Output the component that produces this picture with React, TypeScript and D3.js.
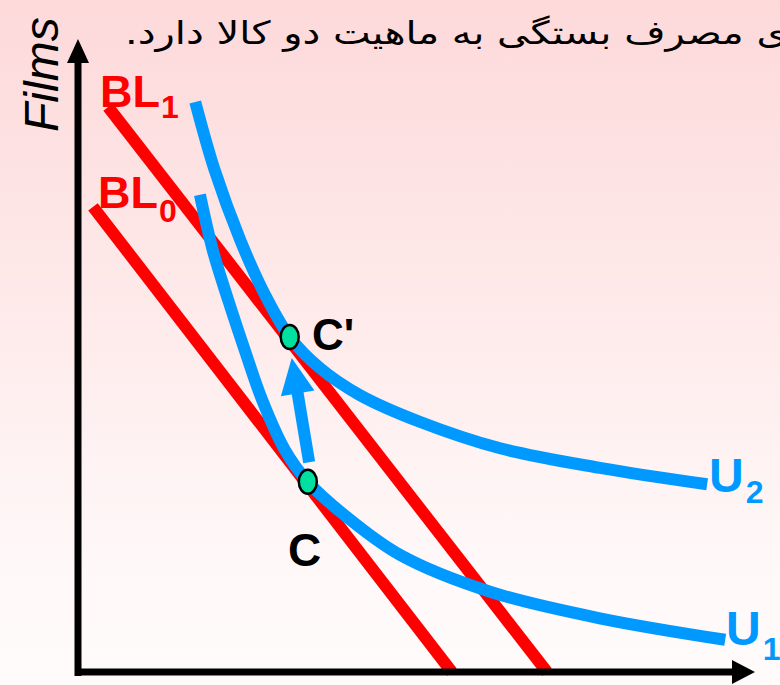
import React from 'react';
import * as d3 from 'd3';

const W = 780;
const H = 685;

// Data (abstract units: x = Other goods, y = Films)
const budgetLine1 = [{ x: 4.5, y: 89.4 }, { x: 70.0, y: 0 }];
const budgetLine0 = [{ x: 2.24, y: 73.6 }, { x: 55.8, y: 0 }];

const utility2 = [
  { x: 17.5, y: 90.2 }, { x: 20.4, y: 79.4 }, { x: 24.2, y: 68.4 }, { x: 27.9, y: 59.7 },
  { x: 31.6, y: 53.0 }, { x: 36.1, y: 48.1 }, { x: 42.1, y: 43.8 }, { x: 51.0, y: 39.6 },
  { x: 63.0, y: 35.4 }, { x: 77.9, y: 32.3 }, { x: 93.9, y: 29.7 },
];

const utility1 = [
  { x: 18.2, y: 75.5 }, { x: 20.1, y: 66.8 }, { x: 22.4, y: 58.9 }, { x: 24.9, y: 50.9 },
  { x: 27.5, y: 43.0 }, { x: 30.9, y: 35.1 }, { x: 34.3, y: 30.1 }, { x: 39.9, y: 24.7 },
  { x: 48.1, y: 18.5 }, { x: 61.5, y: 12.7 }, { x: 77.9, y: 8.5 }, { x: 96.6, y: 5.1 },
];

const pointC = { x: 34.3, y: 30.1 };
const pointCPrime = { x: 31.6, y: 53.0 };
const shiftArrow = [{ x: 34.5, y: 33.2 }, { x: 31.9, y: 49.7 }];

const titleText = 'تغییر الگوی مصرف بستگی به ماهیت دو کالا دارد.';
const yAxisLabel = 'Films';

const RED = '#ff0000';
const BLUE = '#0099ff';
const GREEN = '#00e0a0';

export default function App() {
  const x = d3.scaleLinear().domain([0, 100]).range([78, 748]);
  const y = d3.scaleLinear().domain([0, 100]).range([672, 40]);

  const straight = d3.line<{ x: number; y: number }>().x(d => x(d.x)).y(d => y(d.y));
  const curve = d3
    .line<{ x: number; y: number }>()
    .x(d => x(d.x))
    .y(d => y(d.y))
    .curve(d3.curveCatmullRom.alpha(0.5));

  // shift arrow geometry
  const tx = x(shiftArrow[0].x), ty = y(shiftArrow[0].y);
  const hx = x(shiftArrow[1].x), hy = y(shiftArrow[1].y);
  const len = Math.hypot(hx - tx, hy - ty);
  const ux = (hx - tx) / len, uy = (hy - ty) / len;
  const headLen = 36, headHalf = 17;
  const bx = hx - ux * headLen, by = hy - uy * headLen;
  const px = -uy, py = ux;
  const head = `${hx},${hy} ${bx + px * headHalf},${by + py * headHalf} ${bx - px * headHalf},${by - py * headHalf}`;

  // axes
  const ox = x(0), oy = y(0);
  const xTip = x(100) + 7;
  const yTip = y(100) - 1;

  return (
    <div style={{ position: 'fixed', left: 0, top: 0, width: W, height: H }}>
      <svg width={W} height={H} style={{ display: 'block' }}>
        <defs>
          <linearGradient id="bg" x1="0" y1="0" x2="0" y2="1">
            <stop offset="0" stopColor="#fdd9da" />
            <stop offset="0.85" stopColor="#fff9f9" />
            <stop offset="1" stopColor="#fffbfb" />
          </linearGradient>
        </defs>
        <rect x={0} y={0} width={W} height={H} fill="url(#bg)" />

        <text
          transform="translate(125,44) scale(1.25,1)"
          x={0}
          y={0}
          direction="rtl"
          textAnchor="end"
          fontFamily="'DejaVu Sans', sans-serif"
          fontSize={32}
          fill="#000"
        >
          {titleText}
        </text>

        <text
          transform={`translate(58,132) rotate(-90)`}
          fontFamily="'Liberation Sans', Arial, sans-serif"
          fontStyle="italic"
          fontSize={48}
          fill="#000"
        >
          {yAxisLabel}
        </text>

        {/* budget lines */}
        <path d={straight(budgetLine0) || ''} stroke={RED} strokeWidth={12} fill="none" />
        <path d={straight(budgetLine1) || ''} stroke={RED} strokeWidth={12} fill="none" />

        {/* indifference curves */}
        <path d={curve(utility1) || ''} stroke={BLUE} strokeWidth={12} fill="none" />
        <path d={curve(utility2) || ''} stroke={BLUE} strokeWidth={12} fill="none" />

        {/* shift arrow */}
        <line x1={tx} y1={ty} x2={bx + ux * 2} y2={by + uy * 2} stroke={BLUE} strokeWidth={12} />
        <polygon points={head} fill={BLUE} />

        {/* axes */}
        <line x1={ox - 3} y1={oy} x2={xTip - 20} y2={oy} stroke="#000" strokeWidth={7} />
        <polygon points={`${xTip},${oy} ${xTip - 23},${oy - 12} ${xTip - 23},${oy + 12}`} fill="#000" />
        <line x1={ox} y1={oy + 4} x2={ox} y2={yTip + 20} stroke="#000" strokeWidth={7} />
        <polygon points={`${ox},${yTip} ${ox - 11},${yTip + 24} ${ox + 11},${yTip + 24}`} fill="#000" />

        {/* points */}
        <ellipse cx={x(pointCPrime.x)} cy={y(pointCPrime.y)} rx={9} ry={12} fill={GREEN} stroke="#000" strokeWidth={2.5} />
        <ellipse cx={x(pointC.x)} cy={y(pointC.y)} rx={9} ry={12} fill={GREEN} stroke="#000" strokeWidth={2.5} />

        {/* labels */}
        <g fontFamily="'Liberation Sans', Arial, sans-serif" fontWeight="bold">
          <text x={100} y={107} fontSize={45} fill={RED}>
            BL<tspan fontSize={32} dx={1} dy={11}>1</tspan>
          </text>
          <text x={98} y={208} fontSize={45} fill={RED}>
            BL<tspan fontSize={32} dx={1} dy={14}>0</tspan>
          </text>
          <text x={312} y={350} fontSize={44} fill="#000">C'</text>
          <text x={288} y={566} fontSize={46} fill="#000">C</text>
          <text x={709} y={492} fontSize={48} fill={BLUE}>
            U<tspan fontSize={32} dx={2} dy={11}>2</tspan>
          </text>
          <text x={726} y={645} fontSize={48} fill={BLUE}>
            U<tspan fontSize={32} dx={2} dy={15}>1</tspan>
          </text>
        </g>
      </svg>
    </div>
  );
}
